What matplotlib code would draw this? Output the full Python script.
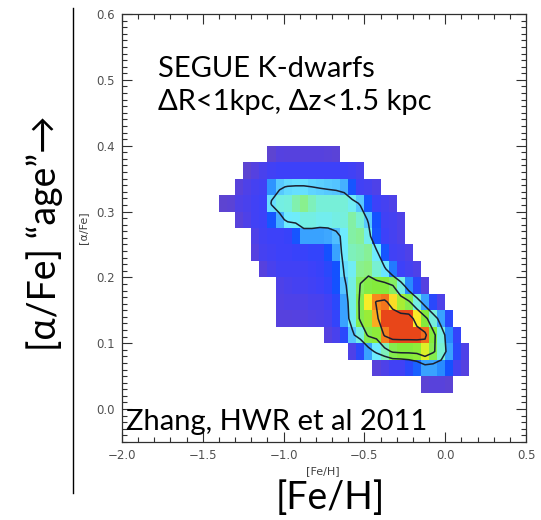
import numpy as np
import matplotlib
matplotlib.use('Agg')
import matplotlib.pyplot as plt
from matplotlib.colors import LinearSegmentedColormap
from matplotlib.lines import Line2D
from matplotlib.ticker import MultipleLocator

### grid of the density map: [Fe/H] bins of 0.05 from -1.40, [a/Fe] bins of 0.025 from 0.025
feh_lo, feh_step, ncol = -1.40, 0.05, 31
afe_lo, afe_step, nrow = 0.025, 0.025, 15

### rows from top (0.375-0.40) to bottom (0.025-0.05); first column index of each row
row_start = [6, 3, 2, 0, 2, 4, 4, 5, 7, 7, 7, 13, 16, 19, 25]
row_vals = [
    [0.5, 1.0, 0.9, 0.9, 0.9, 0.9, 0.9, 0.8, 0.7],
    [0.5, 1.0, 1.3, 1.5, 1.6, 1.6, 1.6, 1.6, 1.6, 1.6, 1.6, 1.6, 1.6, 1.5, 1.3],
    [0.8, 1.2, 1.4, 1.5, 3.6, 4.4, 4.7, 4.8, 4.8, 4.6, 4.5, 4.4, 4.3, 4.0, 2.6, 1.5, 1.4, 1.2],
    [0.5, 0.6, 1.2, 1.3, 1.5, 1.6, 4.8, 5.5, 5.6, 6.1, 6.4, 6.0, 5.7, 5.7, 5.7, 5.7, 5.2, 4.4, 2.6, 1.6, 1.4, 1.2],
    [0.8, 1.2, 1.5, 1.6, 2.6, 4.0, 5.0, 5.1, 5.5, 5.5, 5.3, 5.3, 5.5, 5.6, 6.2, 5.8, 4.4, 2.5, 1.5, 1.4, 1.2],
    [1.2, 1.5, 1.6, 1.6, 1.7, 2.6, 3.8, 3.8, 3.8, 3.9, 4.2, 5.0, 6.2, 6.3, 5.3, 2.6, 1.6, 1.4, 1.2],
    [1.0, 1.4, 1.5, 1.6, 1.6, 1.7, 1.7, 1.8, 1.8, 2.5, 3.8, 5.0, 6.0, 6.1, 6.3, 5.0, 2.6, 1.5, 1.4, 1.2],
    [0.9, 1.3, 1.5, 1.5, 1.5, 1.5, 1.6, 1.7, 2.0, 2.5, 4.8, 5.2, 6.4, 6.5, 5.8, 4.9, 3.2, 1.6, 1.4, 1.2],
    [1.2, 1.3, 1.4, 1.4, 1.5, 1.6, 1.8, 2.5, 4.3, 5.5, 6.8, 7.1, 7.2, 7.2, 6.8, 5.5, 3.5, 2.0, 1.0],
    [1.1, 1.2, 1.2, 1.2, 1.3, 1.3, 1.5, 2.0, 3.8, 5.5, 7.0, 8.4, 9.3, 9.5, 8.6, 7.5, 7.0, 5.5, 3.8, 2.0, 1.2],
    [0.9, 0.9, 1.0, 1.0, 1.1, 1.2, 1.3, 1.8, 3.8, 5.2, 7.0, 7.4, 9.0, 10, 10, 10, 10, 8.5, 7.2, 5.6, 3.8, 2.0],
    [1.0, 1.3, 2.0, 4.3, 5.5, 7.0, 7.3, 9.4, 10, 10, 10, 10, 9.6, 7.2, 5.5, 3.5, 1.8],
    [1.2, 2.0, 3.8, 5.0, 6.0, 7.0, 7.2, 7.2, 7.3, 8.0, 7.0, 5.8, 3.8, 2.0, 1.2],
    [0.8, 1.2, 1.5, 1.5, 2.0, 2.8, 3.8, 3.8, 3.5, 2.5, 1.4, 1.0],
    [0.6, 0.8, 0.8, 0.6],
]
contour_levels = [4.6, 6.75, 9.2]

xticks = [-2.0, -1.5, -1.0, -0.5, 0.0, 0.5]
xticklabels = ['\u22122.0', '\u22121.5', '\u22121.0', '\u22120.5', '0.0', '0.5']
yticks = [0.0, 0.1, 0.2, 0.3, 0.4, 0.5, 0.6]

###build the table
Z = np.full((nrow, ncol), np.nan)
for r in range(nrow):
    j = nrow - 1 - r
    s = row_start[r]
    Z[j, s:s + len(row_vals[r])] = row_vals[r]

xedges = feh_lo + feh_step * np.arange(ncol + 1)
yedges = afe_lo + afe_step * np.arange(nrow + 1)
xc = 0.5 * (xedges[:-1] + xedges[1:])
yc = 0.5 * (yedges[:-1] + yedges[1:])

cmap = LinearSegmentedColormap.from_list('idl', [
    (0.00, (100/255, 70/255, 195/255)),
    (0.10, (85/255, 65/255, 225/255)),
    (0.16, (60/255, 65/255, 250/255)),
    (0.25, (20/255, 80/255, 255/255)),
    (0.35, (40/255, 140/255, 255/255)),
    (0.42, (80/255, 190/255, 255/255)),
    (0.50, (110/255, 235/255, 255/255)),
    (0.58, (120/255, 240/255, 210/255)),
    (0.65, (140/255, 240/255, 130/255)),
    (0.72, (130/255, 235/255, 60/255)),
    (0.80, (220/255, 240/255, 40/255)),
    (0.85, (250/255, 235/255, 40/255)),
    (0.92, (250/255, 150/255, 30/255)),
    (1.00, (232/255, 70/255, 25/255)),
])

fig = plt.figure(figsize=(5.41, 5.20), dpi=100)
ax = fig.add_axes([122/541, 78/520, 404/541, 428/520])

ax.pcolormesh(xedges, yedges, np.ma.masked_invalid(Z), cmap=cmap, vmin=0, vmax=10,
              edgecolors='none', antialiased=False)
Zc = np.nan_to_num(Z, nan=0.0)
ax.contour(xc, yc, Zc, levels=contour_levels, colors='#1a2030', linewidths=1.1)

ax.set_xlim(-2.0, 0.5)
ax.set_ylim(-0.05, 0.6)
ax.set_xticks(xticks)
ax.set_yticks(yticks)
ax.set_xticklabels(xticklabels)
ax.xaxis.set_minor_locator(MultipleLocator(0.1))
ax.yaxis.set_minor_locator(MultipleLocator(0.01))
ax.tick_params(which='both', direction='in', top=True, right=True, labelsize=8.5,
               labelcolor='#505050', color='#303030', width=0.8, pad=5)
ax.tick_params(which='major', length=7)
ax.tick_params(which='minor', length=3.5)
for sp in ax.spines.values():
    sp.set_linewidth(0.9)
    sp.set_color('#303030')

big = ['Lato', 'DejaVu Sans']
ax.text(0.088, 0.853, 'SEGUE K-dwarfs', transform=ax.transAxes, fontsize=21, family=big)
ax.text(0.088, 0.775, '\u0394R<1kpc, \u0394z<1.5 kpc', transform=ax.transAxes, fontsize=21, family=big)
ax.text(0.01, 0.027, 'Zhang, HWR et al 2011', transform=ax.transAxes, fontsize=21, family=big)

### small axis titles of the original plot
fig.text(323/541, 1 - 471/520, '[Fe/H]', fontsize=8, ha='center', va='center', color='#404040')
fig.text(83/541, 1 - 228/520, '[\u03b1/Fe]', fontsize=8, ha='center', va='center', rotation=90,
         color='#404040')

### big slide labels
fig.text(330/541, 1 - 498/520, '[Fe/H]', fontsize=27, ha='center', va='center', family=big)
fig.text(45/541, 1 - 233/520, '[\u03b1/Fe] \u201cage\u201d\u2192', fontsize=27, ha='center', va='center',
         rotation=90, family=big)
fig.add_artist(Line2D([73/541, 73/541], [1 - 8/520, 1 - 493/520], color='black', linewidth=1.0))

fig.savefig('out.png', dpi=100)
